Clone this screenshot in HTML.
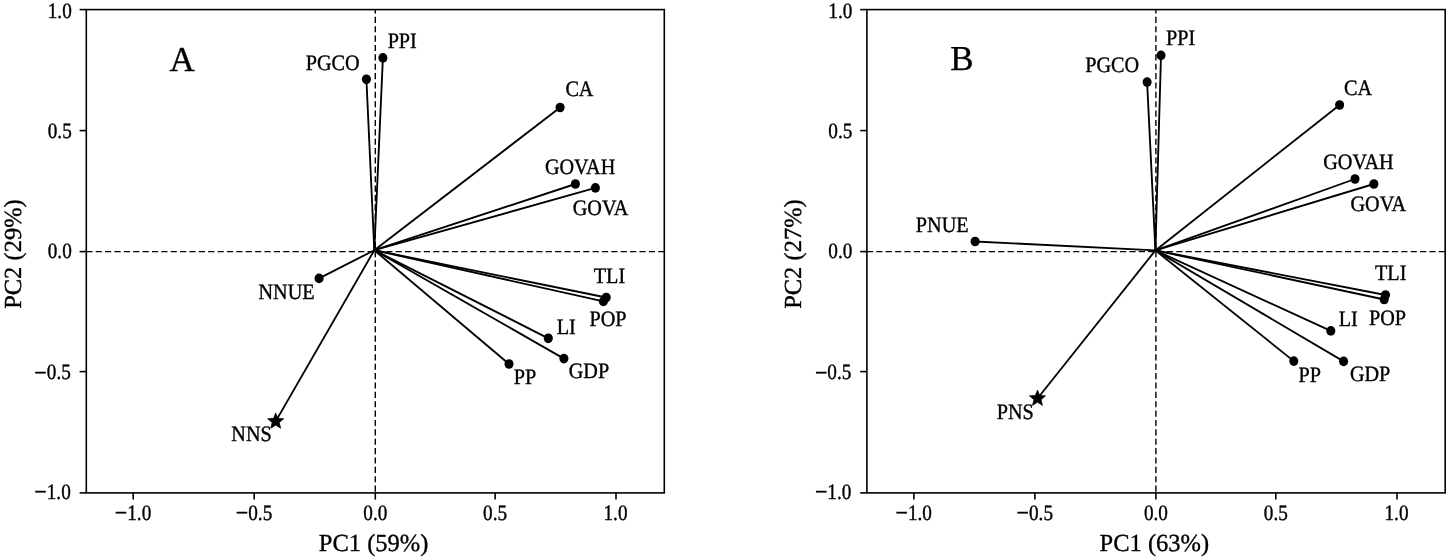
<!DOCTYPE html>
<html><head><meta charset="utf-8"><style>
html,body{margin:0;padding:0;background:#fff;width:1450px;height:560px;overflow:hidden}
svg{display:block;will-change:transform}
text{font-family:"Liberation Serif",serif;fill:#000;font-kerning:none;text-rendering:geometricPrecision;stroke:#000;stroke-width:0.35px}
</style></head><body>
<svg width="1450" height="560" viewBox="0 0 1450 560">
<defs><clipPath id="cA"><rect x="86.3" y="9.6" width="578.00" height="483.30"/></clipPath><clipPath id="cB"><rect x="866.9" y="9.6" width="578.30" height="483.30"/></clipPath></defs>
<rect width="1450" height="560" fill="#fff"/>
<line x1="86.30" y1="251.6" x2="664.30" y2="251.6" stroke="#000" stroke-width="1.4" stroke-dasharray="6.2 3.175"/>
<line x1="375.3" y1="7.4" x2="375.3" y2="492.9" stroke="#000" stroke-width="1.4" stroke-dasharray="6.2 3.175" clip-path="url(#cA)"/>
<line x1="374.3" y1="250.2" x2="382.9" y2="57.9" stroke="#000" stroke-width="1.85"/>
<line x1="374.3" y1="250.2" x2="366.4" y2="79.3" stroke="#000" stroke-width="1.85"/>
<line x1="374.3" y1="250.2" x2="560.1" y2="107.5" stroke="#000" stroke-width="1.85"/>
<line x1="374.3" y1="250.2" x2="575.4" y2="184.0" stroke="#000" stroke-width="1.85"/>
<line x1="374.3" y1="250.2" x2="595.4" y2="187.9" stroke="#000" stroke-width="1.85"/>
<line x1="374.3" y1="250.2" x2="606.2" y2="297.5" stroke="#000" stroke-width="1.85"/>
<line x1="374.3" y1="250.2" x2="603.4" y2="301.4" stroke="#000" stroke-width="1.85"/>
<line x1="374.3" y1="250.2" x2="548.3" y2="338.3" stroke="#000" stroke-width="1.85"/>
<line x1="374.3" y1="250.2" x2="563.9" y2="358.6" stroke="#000" stroke-width="1.85"/>
<line x1="374.3" y1="250.2" x2="509.0" y2="364.0" stroke="#000" stroke-width="1.85"/>
<line x1="374.3" y1="250.2" x2="319.1" y2="278.4" stroke="#000" stroke-width="1.85"/>
<line x1="374.3" y1="250.2" x2="275.7" y2="421.4" stroke="#000" stroke-width="1.85"/>
<ellipse cx="382.9" cy="57.9" rx="4.55" ry="4.85" fill="#000"/>
<ellipse cx="366.4" cy="79.3" rx="4.55" ry="4.85" fill="#000"/>
<ellipse cx="560.1" cy="107.5" rx="4.55" ry="4.85" fill="#000"/>
<ellipse cx="575.4" cy="184.0" rx="4.55" ry="4.85" fill="#000"/>
<ellipse cx="595.4" cy="187.9" rx="4.55" ry="4.85" fill="#000"/>
<ellipse cx="606.2" cy="297.5" rx="4.55" ry="4.85" fill="#000"/>
<ellipse cx="603.4" cy="301.4" rx="4.55" ry="4.85" fill="#000"/>
<ellipse cx="548.3" cy="338.3" rx="4.55" ry="4.85" fill="#000"/>
<ellipse cx="563.9" cy="358.6" rx="4.55" ry="4.85" fill="#000"/>
<ellipse cx="509.0" cy="364.0" rx="4.55" ry="4.85" fill="#000"/>
<ellipse cx="319.1" cy="278.4" rx="4.55" ry="4.85" fill="#000"/>
<polygon points="275.70,412.90 273.50,418.37 267.62,418.77 272.14,422.56 270.70,428.28 275.70,425.14 280.70,428.28 279.26,422.56 283.78,418.77 277.90,418.37" fill="#000" stroke="#000" stroke-width="0.7" stroke-linejoin="round"/>
<rect x="86.3" y="9.6" width="578.00" height="483.30" fill="none" stroke="#000" stroke-width="1.6"/>
<line x1="79.60" y1="9.6" x2="86.3" y2="9.6" stroke="#000" stroke-width="1.6"/>
<text transform="translate(60.21,10.40) scale(0.96,1.1)" x="-13.00" y="6.51" font-size="20.0">1.0</text>
<line x1="79.60" y1="130.6" x2="86.3" y2="130.6" stroke="#000" stroke-width="1.6"/>
<text transform="translate(59.74,131.10) scale(0.96,1.1)" x="-12.49" y="6.51" font-size="20.0">0.5</text>
<line x1="79.60" y1="251.6" x2="86.3" y2="251.6" stroke="#000" stroke-width="1.6"/>
<text transform="translate(59.73,250.80) scale(0.96,1.1)" x="-12.50" y="6.51" font-size="20.0">0.0</text>
<line x1="79.60" y1="371.6" x2="86.3" y2="371.6" stroke="#000" stroke-width="1.6"/>
<text transform="translate(52.70,372.20) scale(0.96,1.1)" x="-19.17" y="6.51" font-size="20.0"><tspan font-size="23.0" dy="1.1">−</tspan><tspan dy="-1.1">0.5</tspan></text>
<line x1="79.60" y1="492.9" x2="86.3" y2="492.9" stroke="#000" stroke-width="1.6"/>
<text transform="translate(52.69,492.10) scale(0.96,1.1)" x="-19.18" y="6.51" font-size="20.0"><tspan font-size="23.0" dy="1.1">−</tspan><tspan dy="-1.1">1.0</tspan></text>
<line x1="133.2" y1="492.9" x2="133.2" y2="499.60" stroke="#000" stroke-width="1.6"/>
<text transform="translate(133.20,513.10) scale(0.96,1.1)" x="-19.18" y="6.51" font-size="20.0"><tspan font-size="23.0" dy="1.1">−</tspan><tspan dy="-1.1">1.0</tspan></text>
<line x1="254.2" y1="492.9" x2="254.2" y2="499.60" stroke="#000" stroke-width="1.6"/>
<text transform="translate(254.20,513.10) scale(0.96,1.1)" x="-19.17" y="6.51" font-size="20.0"><tspan font-size="23.0" dy="1.1">−</tspan><tspan dy="-1.1">0.5</tspan></text>
<line x1="375.3" y1="492.9" x2="375.3" y2="499.60" stroke="#000" stroke-width="1.6"/>
<text transform="translate(375.30,513.10) scale(0.96,1.1)" x="-12.50" y="6.51" font-size="20.0">0.0</text>
<line x1="495.1" y1="492.9" x2="495.1" y2="499.60" stroke="#000" stroke-width="1.6"/>
<text transform="translate(495.10,513.10) scale(0.96,1.1)" x="-12.49" y="6.51" font-size="20.0">0.5</text>
<line x1="616.0" y1="492.9" x2="616.0" y2="499.60" stroke="#000" stroke-width="1.6"/>
<text transform="translate(616.00,513.10) scale(0.96,1.1)" x="-13.00" y="6.51" font-size="20.0">1.0</text>
<text transform="translate(402.15,41.10) scale(1.0,1.09)" x="-14.53" y="6.61" font-size="20.2">PPI</text>
<text transform="translate(332.50,62.50) scale(1.0,1.09)" x="-26.82" y="6.59" font-size="20.2">PGCO</text>
<text transform="translate(579.75,89.20) scale(1.0,1.09)" x="-14.37" y="6.59" font-size="20.2">CA</text>
<text transform="translate(580.20,167.30) scale(1.0,1.09)" x="-35.28" y="6.53" font-size="20.2" style="font-kerning:normal">GOVAH</text>
<text transform="translate(600.95,208.05) scale(1.0,1.09)" x="-28.22" y="6.53" font-size="20.2" style="font-kerning:normal">GOVA</text>
<text transform="translate(609.30,275.40) scale(1.0,1.09)" x="-15.53" y="6.61" font-size="20.2">TLI</text>
<text transform="translate(607.85,319.25) scale(1.0,1.09)" x="-18.41" y="6.59" font-size="20.2">POP</text>
<text transform="translate(566.10,326.85) scale(1.0,1.09)" x="-9.47" y="6.61" font-size="20.2">LI</text>
<text transform="translate(588.95,371.15) scale(1.0,1.09)" x="-20.21" y="6.59" font-size="20.2">GDP</text>
<text transform="translate(524.85,376.45) scale(1.0,1.09)" x="-11.12" y="6.61" font-size="20.2">PP</text>
<text transform="translate(286.35,292.05) scale(1.0,1.09)" x="-27.84" y="6.51" font-size="20.2">NNUE</text>
<text transform="translate(251.20,433.55) scale(1.0,1.09)" x="-19.87" y="6.59" font-size="20.2">NNS</text>
<text x="169.62" y="70.80" font-size="35.0">A</text>
<text x="318.85" y="550.69" font-size="24.5">PC1 (59%)</text>
<text transform="translate(14.9,254.25) rotate(-90)" x="-54.60" y="5.89" font-size="24.5">PC2 (29%)</text>
<line x1="866.90" y1="251.6" x2="1445.20" y2="251.6" stroke="#000" stroke-width="1.4" stroke-dasharray="6.2 3.175"/>
<line x1="1155.9" y1="7.4" x2="1155.9" y2="492.9" stroke="#000" stroke-width="1.4" stroke-dasharray="6.2 3.175" clip-path="url(#cB)"/>
<line x1="1155.4" y1="250.4" x2="1161.0" y2="55.4" stroke="#000" stroke-width="1.85"/>
<line x1="1155.4" y1="250.4" x2="1147.1" y2="82.1" stroke="#000" stroke-width="1.85"/>
<line x1="1155.4" y1="250.4" x2="1339.6" y2="105.0" stroke="#000" stroke-width="1.85"/>
<line x1="1155.4" y1="250.4" x2="1355.0" y2="179.0" stroke="#000" stroke-width="1.85"/>
<line x1="1155.4" y1="250.4" x2="1373.9" y2="184.0" stroke="#000" stroke-width="1.85"/>
<line x1="1155.4" y1="250.4" x2="1385.5" y2="295.0" stroke="#000" stroke-width="1.85"/>
<line x1="1155.4" y1="250.4" x2="1384.2" y2="299.5" stroke="#000" stroke-width="1.85"/>
<line x1="1155.4" y1="250.4" x2="1330.8" y2="330.9" stroke="#000" stroke-width="1.85"/>
<line x1="1155.4" y1="250.4" x2="1343.6" y2="361.4" stroke="#000" stroke-width="1.85"/>
<line x1="1155.4" y1="250.4" x2="1293.8" y2="361.1" stroke="#000" stroke-width="1.85"/>
<line x1="1155.4" y1="250.4" x2="975.1" y2="241.5" stroke="#000" stroke-width="1.85"/>
<line x1="1155.4" y1="250.4" x2="1037.5" y2="398.5" stroke="#000" stroke-width="1.85"/>
<ellipse cx="1161.0" cy="55.4" rx="4.55" ry="4.85" fill="#000"/>
<ellipse cx="1147.1" cy="82.1" rx="4.55" ry="4.85" fill="#000"/>
<ellipse cx="1339.6" cy="105.0" rx="4.55" ry="4.85" fill="#000"/>
<ellipse cx="1355.0" cy="179.0" rx="4.55" ry="4.85" fill="#000"/>
<ellipse cx="1373.9" cy="184.0" rx="4.55" ry="4.85" fill="#000"/>
<ellipse cx="1385.5" cy="295.0" rx="4.55" ry="4.85" fill="#000"/>
<ellipse cx="1384.2" cy="299.5" rx="4.55" ry="4.85" fill="#000"/>
<ellipse cx="1330.8" cy="330.9" rx="4.55" ry="4.85" fill="#000"/>
<ellipse cx="1343.6" cy="361.4" rx="4.55" ry="4.85" fill="#000"/>
<ellipse cx="1293.8" cy="361.1" rx="4.55" ry="4.85" fill="#000"/>
<ellipse cx="975.1" cy="241.5" rx="4.55" ry="4.85" fill="#000"/>
<polygon points="1037.50,390.00 1035.30,395.47 1029.42,395.87 1033.94,399.66 1032.50,405.38 1037.50,402.24 1042.50,405.38 1041.06,399.66 1045.58,395.87 1039.70,395.47" fill="#000" stroke="#000" stroke-width="0.7" stroke-linejoin="round"/>
<rect x="866.9" y="9.6" width="578.30" height="483.30" fill="none" stroke="#000" stroke-width="1.6"/>
<line x1="860.20" y1="9.6" x2="866.9" y2="9.6" stroke="#000" stroke-width="1.6"/>
<text transform="translate(840.81,10.40) scale(0.96,1.1)" x="-13.00" y="6.51" font-size="20.0">1.0</text>
<line x1="860.20" y1="130.6" x2="866.9" y2="130.6" stroke="#000" stroke-width="1.6"/>
<text transform="translate(840.34,131.10) scale(0.96,1.1)" x="-12.49" y="6.51" font-size="20.0">0.5</text>
<line x1="860.20" y1="251.6" x2="866.9" y2="251.6" stroke="#000" stroke-width="1.6"/>
<text transform="translate(840.33,250.80) scale(0.96,1.1)" x="-12.50" y="6.51" font-size="20.0">0.0</text>
<line x1="860.20" y1="371.6" x2="866.9" y2="371.6" stroke="#000" stroke-width="1.6"/>
<text transform="translate(833.30,372.20) scale(0.96,1.1)" x="-19.17" y="6.51" font-size="20.0"><tspan font-size="23.0" dy="1.1">−</tspan><tspan dy="-1.1">0.5</tspan></text>
<line x1="860.20" y1="492.9" x2="866.9" y2="492.9" stroke="#000" stroke-width="1.6"/>
<text transform="translate(833.29,492.10) scale(0.96,1.1)" x="-19.18" y="6.51" font-size="20.0"><tspan font-size="23.0" dy="1.1">−</tspan><tspan dy="-1.1">1.0</tspan></text>
<line x1="913.9" y1="492.9" x2="913.9" y2="499.60" stroke="#000" stroke-width="1.6"/>
<text transform="translate(913.90,513.10) scale(0.96,1.1)" x="-19.18" y="6.51" font-size="20.0"><tspan font-size="23.0" dy="1.1">−</tspan><tspan dy="-1.1">1.0</tspan></text>
<line x1="1034.9" y1="492.9" x2="1034.9" y2="499.60" stroke="#000" stroke-width="1.6"/>
<text transform="translate(1034.90,513.10) scale(0.96,1.1)" x="-19.17" y="6.51" font-size="20.0"><tspan font-size="23.0" dy="1.1">−</tspan><tspan dy="-1.1">0.5</tspan></text>
<line x1="1155.9" y1="492.9" x2="1155.9" y2="499.60" stroke="#000" stroke-width="1.6"/>
<text transform="translate(1155.90,513.10) scale(0.96,1.1)" x="-12.50" y="6.51" font-size="20.0">0.0</text>
<line x1="1275.8" y1="492.9" x2="1275.8" y2="499.60" stroke="#000" stroke-width="1.6"/>
<text transform="translate(1275.80,513.10) scale(0.96,1.1)" x="-12.49" y="6.51" font-size="20.0">0.5</text>
<line x1="1397.0" y1="492.9" x2="1397.0" y2="499.60" stroke="#000" stroke-width="1.6"/>
<text transform="translate(1397.00,513.10) scale(0.96,1.1)" x="-13.00" y="6.51" font-size="20.0">1.0</text>
<text transform="translate(1180.60,37.50) scale(1.0,1.09)" x="-14.53" y="6.61" font-size="20.2">PPI</text>
<text transform="translate(1112.00,65.00) scale(1.0,1.09)" x="-26.82" y="6.59" font-size="20.2">PGCO</text>
<text transform="translate(1358.30,88.20) scale(1.0,1.09)" x="-14.37" y="6.59" font-size="20.2">CA</text>
<text transform="translate(1358.55,161.80) scale(1.0,1.09)" x="-35.28" y="6.53" font-size="20.2" style="font-kerning:normal">GOVAH</text>
<text transform="translate(1378.70,203.90) scale(1.0,1.09)" x="-28.22" y="6.53" font-size="20.2" style="font-kerning:normal">GOVA</text>
<text transform="translate(1390.50,272.90) scale(1.0,1.09)" x="-15.53" y="6.61" font-size="20.2">TLI</text>
<text transform="translate(1387.45,318.00) scale(1.0,1.09)" x="-18.41" y="6.59" font-size="20.2">POP</text>
<text transform="translate(1348.20,319.00) scale(1.0,1.09)" x="-9.47" y="6.61" font-size="20.2">LI</text>
<text transform="translate(1370.10,373.95) scale(1.0,1.09)" x="-20.21" y="6.59" font-size="20.2">GDP</text>
<text transform="translate(1309.60,374.75) scale(1.0,1.09)" x="-11.12" y="6.61" font-size="20.2">PP</text>
<text transform="translate(942.00,224.40) scale(1.0,1.09)" x="-26.16" y="6.51" font-size="20.2">PNUE</text>
<text transform="translate(1015.00,411.70) scale(1.0,1.09)" x="-18.19" y="6.59" font-size="20.2">PNS</text>
<text x="950.18" y="70.31" font-size="35.0">B</text>
<text x="1099.60" y="550.69" font-size="24.5">PC1 (63%)</text>
<text transform="translate(794.9,254.25) rotate(-90)" x="-54.60" y="5.89" font-size="24.5">PC2 (27%)</text>
</svg></body></html>
